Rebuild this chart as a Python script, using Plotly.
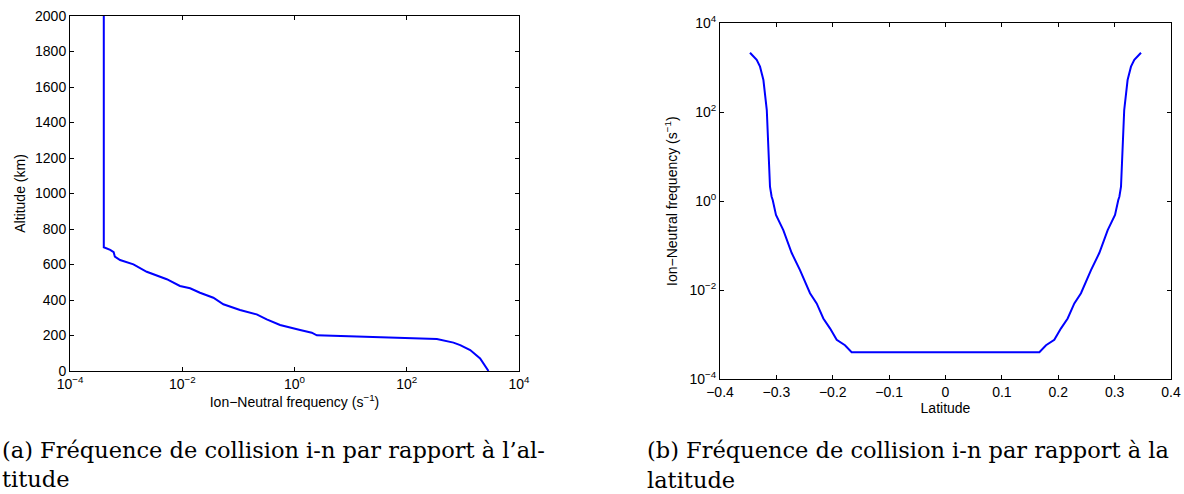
import plotly.graph_objects as go

# ---- Data: panel (a) altitude profile ----
alt_freq = [4.0e-4, 4.0e-4, 4.0e-4, 5.2e-4, 6.0e-4, 6.3e-4, 7.8e-4, 1.35e-3, 2.33e-3,
            5.3e-3, 9.1e-3, 1.38e-2, 2.07e-2, 3.58e-2, 5.4e-2, 0.107, 0.212, 0.32,
            0.553, 1.26, 2.03, 2.5, 344, 680, 896, 1350, 1770, 2030, 2860]
alt_km = [2000, 1000, 697, 682, 669, 644, 625, 601, 559,
          517, 479, 466, 441, 413, 376, 344, 319, 291,
          259, 231, 216, 201, 180, 160, 146, 118, 90, 71, 0]

# ---- Data: panel (b) latitude profile ----
lat = [-0.3468, -0.3349, -0.3290, -0.3230, -0.3170, -0.3113, -0.3084, -0.3065, -0.3007,
       -0.2877, -0.2728, -0.2581, -0.2403, -0.2285, -0.2167, -0.2049, -0.1930, -0.1783,
       -0.1665,
       0.1665, 0.1783, 0.1930, 0.2049, 0.2167, 0.2285, 0.2403, 0.2581, 0.2728,
       0.2877, 0.3007, 0.3065, 0.3084, 0.3113, 0.3170, 0.3230, 0.3290, 0.3349, 0.3468]
lat_freq = [2180, 1500, 1060, 530, 112, 2.11, 1.26, 1.06, 0.49,
            0.224, 0.068, 0.0282, 8.5e-3, 5.0e-3, 2.3e-3, 1.38e-3, 7.6e-4, 5.75e-4,
            4.0e-4,
            4.0e-4, 5.75e-4, 7.6e-4, 1.38e-3, 2.3e-3, 5.0e-3, 8.5e-3, 0.0282, 0.068,
            0.224, 0.49, 1.06, 1.26, 2.11, 112, 530, 1060, 1500, 2180]

# ---- Tick labels ----
log_tickvals_a = [1e-4, 1e-2, 1, 1e2, 1e4]
log_ticktext_a = ["10<sup>−4</sup>", "10<sup>−2</sup>", "10<sup>0</sup>", "10<sup>2</sup>", "10<sup>4</sup>"]
alt_ticks = [0, 200, 400, 600, 800, 1000, 1200, 1400, 1600, 1800, 2000]
lat_ticks = [-0.4, -0.3, -0.2, -0.1, 0, 0.1, 0.2, 0.3, 0.4]
lat_ticktext = ["−0.4", "−0.3", "−0.2", "−0.1", "0", "0.1", "0.2", "0.3", "0.4"]

W, H = 1184, 494
tickfont = dict(family="Liberation Sans, Arial, sans-serif", size=14, color="black")
titlefont = dict(family="Liberation Sans, Arial, sans-serif", size=14, color="black")
capfont = dict(family="DejaVu Serif, serif", size=22.5, color="black")

fig = go.Figure()
fig.add_trace(go.Scatter(x=alt_freq, y=alt_km, mode="lines",
                         line=dict(color="#0000ff", width=2), xaxis="x", yaxis="y",
                         showlegend=False, hoverinfo="skip"))
fig.add_trace(go.Scatter(x=lat, y=lat_freq, mode="lines",
                         line=dict(color="#0000ff", width=2), xaxis="x2", yaxis="y2",
                         showlegend=False, hoverinfo="skip"))

common = dict(showline=True, linecolor="black", linewidth=1, mirror="allticks",
              ticks="inside", ticklen=4, tickcolor="black", tickwidth=1,
              showgrid=False, zeroline=False, tickfont=tickfont, automargin=False)

def py(p):
    return 1 - p / H

fig.update_layout(
    width=W, height=H, margin=dict(l=0, r=0, t=0, b=0),
    paper_bgcolor="white", plot_bgcolor="white",
    xaxis=dict(domain=[70 / W, 519 / W], anchor="y", type="log", range=[-4, 4],
               tickvals=log_tickvals_a, ticktext=log_ticktext_a,
               title=dict(text="Ion−Neutral frequency (s<sup>−1</sup>)", font=titlefont, standoff=5),
               **common),
    yaxis=dict(domain=[py(371), py(16)], anchor="x", range=[0, 2000],
               tickvals=alt_ticks,
               title=dict(text="Altitude (km)", font=titlefont, standoff=6),
               **common),
    xaxis2=dict(domain=[720 / W, 1171 / W], anchor="y2", range=[-0.4, 0.4],
                tickvals=lat_ticks, ticktext=lat_ticktext,
                title=dict(text="Latitude", font=titlefont, standoff=0),
                **common),
    yaxis2=dict(domain=[py(379), py(23.3)], anchor="x2", type="log", range=[-4, 4],
                tickvals=log_tickvals_a, ticktext=log_ticktext_a,
                title=dict(text="Ion−Neutral frequency (s<sup>−1</sup>)", font=titlefont, standoff=8),
                **common),
)

captions = [
    ("(a) Fréquence de collision i-n par rapport à l’al-", 0, 457),
    ("titude", 0, 486),
    ("(b) Fréquence de collision i-n par rapport à la", 645, 457),
    ("latitude", 645, 487),
]
for txt, xp, base in captions:
    fig.add_annotation(text=txt, xref="paper", yref="paper", x=xp / W, y=py(base - 7),
                       xanchor="left", yanchor="middle", showarrow=False, font=capfont)

fig.write_html("out.html")
